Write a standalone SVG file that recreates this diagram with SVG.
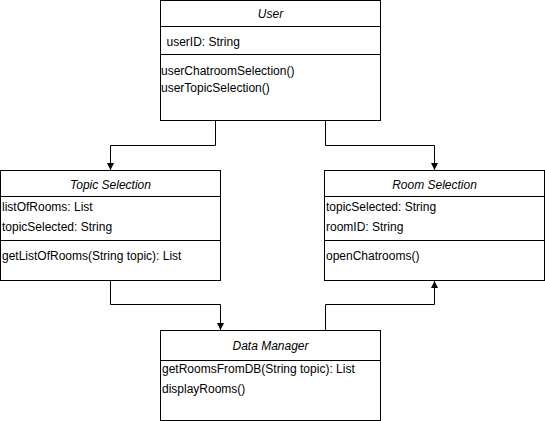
<svg xmlns="http://www.w3.org/2000/svg" width="545" height="421" viewBox="0 0 545 421">
<defs>
<style>
.box{fill:#fff;stroke:#000;stroke-width:1}
.sep{stroke:#000;stroke-width:1;fill:none}
.edge{stroke:#000;stroke-width:1;fill:none}
text{font-family:"Liberation Sans",Arial,Helvetica,sans-serif;font-size:12px;fill:#000}
.title{font-style:italic;text-anchor:middle}
</style>
<marker id="arr" markerUnits="userSpaceOnUse" markerWidth="10" markerHeight="10" refX="7" refY="3.5" orient="auto">
<path d="M0,0 L7,3.5 L0,7 z" fill="#000"/>
</marker>
</defs>
<rect width="545" height="421" fill="#fff"/>
<g id="connectors">
<path class="edge" d="M215.5 120.5 V145.5 H110.5 V170" marker-end="url(#arr)"/>
<path class="edge" d="M325.5 120.5 V145.5 H434.5 V170" marker-end="url(#arr)"/>
<path class="edge" d="M110.5 280.5 V304.5 H220.5 V330" marker-end="url(#arr)"/>
<path class="edge" d="M325.5 330.5 V304.5 H434.5 V281" marker-end="url(#arr)"/>
</g>
<g id="user">
<rect class="box" x="160.5" y="0.5" width="220" height="120"/>
<path class="sep" d="M160.5 26.5 H380.5 M160.5 54.5 H380.5"/>
<text class="title" x="270.5" y="17.5">User</text>
<text x="166.5" y="45.5">userID: String</text>
<text x="161" y="74.5">userChatroomSelection()</text>
<text x="161" y="91.5">userTopicSelection()</text>
</g>
<g id="topic-selection">
<rect class="box" x="0.5" y="170.5" width="220" height="110"/>
<path class="sep" d="M0.5 196.5 H220.5 M0.5 240.5 H220.5"/>
<text class="title" x="110.5" y="188.5">Topic Selection</text>
<text x="2" y="211">listOfRooms: List</text>
<text x="2" y="230.5">topicSelected: String</text>
<text x="2" y="259.5">getListOfRooms(String topic): List</text>
</g>
<g id="room-selection">
<rect class="box" x="324.5" y="170.5" width="220" height="110"/>
<path class="sep" d="M324.5 196.5 H544.5 M324.5 240.5 H544.5"/>
<text class="title" x="434.5" y="188.5">Room Selection</text>
<text x="326" y="211">topicSelected: String</text>
<text x="326" y="230.5">roomID: String</text>
<text x="326" y="259.5">openChatrooms()</text>
</g>
<g id="data-manager">
<rect class="box" x="160.5" y="330.5" width="220" height="90"/>
<path class="sep" d="M160.5 360.5 H380.5"/>
<text class="title" x="270.5" y="349.5">Data Manager</text>
<text x="162" y="372.5">getRoomsFromDB(String topic): List</text>
<text x="162" y="392.5">displayRooms()</text>
</g>
</svg>
